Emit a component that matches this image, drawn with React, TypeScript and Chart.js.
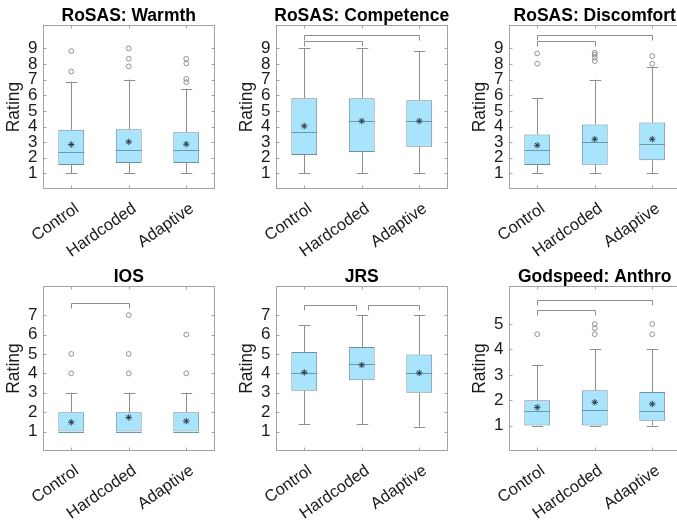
import React, { useEffect, useRef } from 'react';
import { Chart, registerables } from 'chart.js';
Chart.register(...registerables);

const categories = ['Control', 'Hardcoded', 'Adaptive'];

// per category: [lowWhisker, q1, median, q3, highWhisker, mean]
const warmthStats = [
  [1, 1.54, 2.35, 3.79, 6.88, 2.85],
  [1, 1.67, 2.48, 3.83, 7.0, 3.02],
  [1, 1.67, 2.48, 3.64, 6.41, 2.87],
];
const warmthOutliers = [[8.83, 7.52], [9.0, 8.34, 7.85], [8.34, 8.04, 7.05, 6.84]];
const warmthSig: number[][] = [];

const competenceStats = [
  [1, 2.18, 3.68, 5.81, 9.0, 4.03],
  [1, 2.37, 4.35, 5.81, 9.0, 4.35],
  [1, 2.7, 4.35, 5.68, 8.83, 4.35],
];
const competenceOutliers: number[][] = [[], [], []];
const competenceSig = [[0, 1, 9.46], [0, 2, 9.89]];

const discomfortStats = [
  [1, 1.54, 2.48, 3.49, 5.83, 2.8],
  [1, 1.56, 3.0, 4.13, 7.0, 3.19],
  [1, 1.84, 2.85, 4.26, 7.82, 3.19],
];
const discomfortOutliers = [[8.68, 8.02], [8.73, 8.6, 8.42, 8.19], [8.51, 8.02]];
const discomfortSig = [[0, 1, 9.46], [0, 2, 9.89]];

const iosStats = [
  [1, 1, 1, 2, 3, 1.48],
  [1, 1, 1, 2, 3, 1.73],
  [1, 1, 1, 2, 3, 1.54],
];
const iosOutliers = [[5, 4], [7, 5, 4], [6, 4]];
const iosSig = [[0, 1, 7.65]];

const jrsStats = [
  [1.38, 3.1, 4.0, 5.1, 6.48, 4.05],
  [1.38, 3.65, 4.5, 5.36, 7.0, 4.43],
  [1.26, 3.0, 4.0, 4.97, 7.0, 4.02],
];
const jrsOutliers: number[][] = [[], [], []];
const jrsSig = [[0, 0.9, 7.53], [1.1, 2, 7.53]];

const anthroStats = [
  [1, 1, 1.59, 2.0, 3.39, 1.72],
  [1, 1, 1.6, 2.39, 4.0, 1.92],
  [1, 1.19, 1.59, 2.32, 4.0, 1.85],
];
const anthroOutliers = [[4.6], [5.0, 4.83, 4.6], [5.0, 4.6]];
const anthroSig = [[0, 1, 5.55], [0, 2, 5.96]];

const yTicksNine = [1, 2, 3, 4, 5, 6, 7, 8, 9];
const yTicksSeven = [1, 2, 3, 4, 5, 6, 7];
const yTicksFive = [1, 2, 3, 4, 5];

const FONT = '"Liberation Sans", Arial, Helvetica, sans-serif';
const FILL = 'rgb(168, 228, 251)';
const EDGE = '#6f8c9c';
const MEDIAN = '#6b98ad';
const WHISKER = '#8e8e8e';
const FRAME = '#a3a3a3';
const TEXT = '#1a1a1a';

type Panel = {
  title: string;
  stats: number[][];
  outliers: number[][];
  sig: number[][];
  ticks: number[];
  yMax: number;
  col: number;
  row: number;
};

const panels: Panel[] = [
  { title: 'RoSAS: Warmth', stats: warmthStats, outliers: warmthOutliers, sig: warmthSig, ticks: yTicksNine, yMax: 10.5, col: 0, row: 0 },
  { title: 'RoSAS: Competence', stats: competenceStats, outliers: competenceOutliers, sig: competenceSig, ticks: yTicksNine, yMax: 10.5, col: 1, row: 0 },
  { title: 'RoSAS: Discomfort', stats: discomfortStats, outliers: discomfortOutliers, sig: discomfortSig, ticks: yTicksNine, yMax: 10.5, col: 2, row: 0 },
  { title: 'IOS', stats: iosStats, outliers: iosOutliers, sig: iosSig, ticks: yTicksSeven, yMax: 8.5, col: 0, row: 1 },
  { title: 'JRS', stats: jrsStats, outliers: jrsOutliers, sig: jrsSig, ticks: yTicksSeven, yMax: 8.5, col: 1, row: 1 },
  { title: 'Godspeed: Anthro', stats: anthroStats, outliers: anthroOutliers, sig: anthroSig, ticks: yTicksFive, yMax: 6.5, col: 2, row: 1 },
];

const COL_LEFT = [0, 233, 466];
const CANVAS_W = 230;
const Y_AXIS_W = 42.5;
const PLOT_W = 172.5;
const ROWS = [
  { top: 0, height: 260, plotTop: 25, plotBottom: 189 },
  { top: 260, height: 263, plotTop: 286, plotBottom: 451 },
];

function makeBoxPlugin(p: Panel) {
  return {
    id: 'boxExtras',
    beforeDatasetsDraw(chart: any) {
      const { ctx, scales } = chart;
      const x = scales.x;
      const y = scales.y;
      const catW = x.getPixelForValue(1) - x.getPixelForValue(0);
      const capHalf = catW * 0.1;
      ctx.save();
      ctx.strokeStyle = WHISKER;
      ctx.lineWidth = 1;
      p.stats.forEach((s, i) => {
        const cx = Math.round(x.getPixelForValue(i)) + 0.5;
        ctx.beginPath();
        ctx.moveTo(cx, y.getPixelForValue(s[0]));
        ctx.lineTo(cx, y.getPixelForValue(s[1]));
        ctx.moveTo(cx, y.getPixelForValue(s[3]));
        ctx.lineTo(cx, y.getPixelForValue(s[4]));
        const lo = Math.round(y.getPixelForValue(s[0])) + 0.5;
        const hi = Math.round(y.getPixelForValue(s[4])) + 0.5;
        ctx.moveTo(cx - capHalf, lo);
        ctx.lineTo(cx + capHalf, lo);
        ctx.moveTo(cx - capHalf, hi);
        ctx.lineTo(cx + capHalf, hi);
        ctx.stroke();
      });
      ctx.strokeStyle = WHISKER;
      p.sig.forEach((b) => {
        const x1 = Math.round(x.getPixelForValue(b[0])) + 0.5;
        const x2 = Math.round(x.getPixelForValue(b[1])) + 0.5;
        const yy = Math.round(y.getPixelForValue(b[2])) + 0.5;
        ctx.beginPath();
        ctx.moveTo(x1, yy + 5);
        ctx.lineTo(x1, yy);
        ctx.lineTo(x2, yy);
        ctx.lineTo(x2, yy + 5);
        ctx.stroke();
      });
      ctx.restore();
    },
    afterDatasetDraw(chart: any, args: any) {
      if (args.meta.type !== 'bar') return;
      const { ctx, scales } = chart;
      const x = scales.x;
      const y = scales.y;
      const catW = x.getPixelForValue(1) - x.getPixelForValue(0);
      const half = catW * 0.45 / 2;
      ctx.save();
      ctx.strokeStyle = MEDIAN;
      ctx.lineWidth = 1;
      p.stats.forEach((s, i) => {
        const cx = x.getPixelForValue(i);
        const my = Math.round(y.getPixelForValue(s[2])) + 0.5;
        ctx.beginPath();
        ctx.moveTo(cx - half, my);
        ctx.lineTo(cx + half, my);
        ctx.stroke();
      });
      ctx.restore();
    },
    afterDraw(chart: any) {
      const { ctx, chartArea, scales } = chart;
      const { left, right, top, bottom } = chartArea;
      ctx.save();
      ctx.strokeStyle = FRAME;
      ctx.lineWidth = 1;
      const L = Math.round(left) + 0.5;
      const R = Math.round(right) - 0.5;
      const T = Math.round(top) + 0.5;
      const B = Math.round(bottom) - 0.5;
      ctx.strokeRect(L, T, R - L, B - T);
      ctx.beginPath();
      p.ticks.forEach((v) => {
        const yy = Math.round(scales.y.getPixelForValue(v)) + 0.5;
        ctx.moveTo(L, yy);
        ctx.lineTo(L + 3, yy);
        ctx.moveTo(R, yy);
        ctx.lineTo(R - 3, yy);
      });
      categories.forEach((_, i) => {
        const xx = Math.round(scales.x.getPixelForValue(i)) + 0.5;
        ctx.moveTo(xx, B);
        ctx.lineTo(xx, B - 3);
        ctx.moveTo(xx, T);
        ctx.lineTo(xx, T + 3);
      });
      ctx.stroke();
      ctx.fillStyle = '#000';
      ctx.font = 'bold 17.5px ' + FONT;
      ctx.textAlign = 'center';
      ctx.textBaseline = 'alphabetic';
      ctx.fillText(p.title, (left + right) / 2, top - 4.5);
      ctx.restore();
    },
  };
}

function PanelChart({ p }: { p: Panel }) {
  const ref = useRef<HTMLCanvasElement | null>(null);
  const row = ROWS[p.row];
  useEffect(() => {
    if (!ref.current) return;
    const boxData = p.stats.map((s) => [s[1], s[3]]);
    const meanData = p.stats.map((s, i) => ({ x: categories[i], y: s[5] }));
    const outlierData: { x: string; y: number }[] = [];
    p.outliers.forEach((arr, i) => arr.forEach((v) => outlierData.push({ x: categories[i], y: v })));
    const chart = new Chart(ref.current, {
      type: 'bar',
      data: {
        labels: categories,
        datasets: [
          {
            type: 'bar',
            data: boxData as any,
            backgroundColor: FILL,
            borderColor: EDGE,
            borderWidth: 1,
            borderSkipped: false,
            barPercentage: 0.45,
            categoryPercentage: 1,
            order: 3,
          } as any,
          {
            type: 'line',
            data: outlierData as any,
            showLine: false,
            pointStyle: 'circle',
            pointRadius: 2.4,
            pointBorderWidth: 0.8,
            pointBorderColor: '#7a7a7a',
            pointBackgroundColor: 'rgba(255,255,255,0)',
            order: 2,
          } as any,
          {
            type: 'line',
            data: meanData as any,
            showLine: false,
            pointStyle: 'star',
            pointRadius: 3.2,
            pointBorderWidth: 1,
            pointBorderColor: '#2c3a42',
            order: 1,
          } as any,
        ],
      },
      options: {
        animation: false,
        responsive: false,
        maintainAspectRatio: false,
        events: [],
        layout: {
          padding: { left: 0, right: CANVAS_W - Y_AXIS_W - PLOT_W, top: row.plotTop - row.top, bottom: 0 },
        },
        plugins: {
          legend: { display: false },
          tooltip: { enabled: false },
          title: { display: false },
        },
        scales: {
          x: {
            type: 'category',
            offset: true,
            grid: { display: false, drawTicks: false },
            border: { display: false },
            ticks: {
              autoSkip: false,
              minRotation: 35,
              maxRotation: 35,
              padding: 10,
              labelOffset: 6,
              color: TEXT,
              font: { family: FONT, size: 16.5 },
            },
            afterFit: (s: any) => {
              s.height = row.top + row.height - row.plotBottom;
            },
          },
          y: {
            type: 'linear',
            min: 0,
            max: p.yMax,
            grid: { display: false, drawTicks: false },
            border: { display: false },
            afterBuildTicks: (s: any) => {
              s.ticks = p.ticks.map((v) => ({ value: v }));
            },
            ticks: {
              autoSkip: false,
              padding: 5,
              color: TEXT,
              font: { family: FONT, size: 17 },
            },
            title: {
              display: true,
              text: 'Rating',
              color: TEXT,
              font: { family: FONT, size: 17.5 },
              padding: { top: 4, bottom: 0 },
            },
            afterFit: (s: any) => {
              s.width = Y_AXIS_W;
            },
          },
        },
      } as any,
      plugins: [makeBoxPlugin(p)],
    });
    return () => chart.destroy();
  }, []);
  return (
    <canvas
      ref={ref}
      width={CANVAS_W}
      height={row.height}
      style={{
        position: 'absolute',
        left: COL_LEFT[p.col],
        top: row.top,
        width: CANVAS_W,
        height: row.height,
        display: 'block',
      }}
    />
  );
}

export default function App() {
  return (
    <div
      style={{
        position: 'fixed',
        left: 0,
        top: 0,
        width: 677,
        height: 523,
        overflow: 'hidden',
        background: '#fff',
      }}
    >
      {panels.map((p, i) => (
        <PanelChart key={i} p={p} />
      ))}
    </div>
  );
}
